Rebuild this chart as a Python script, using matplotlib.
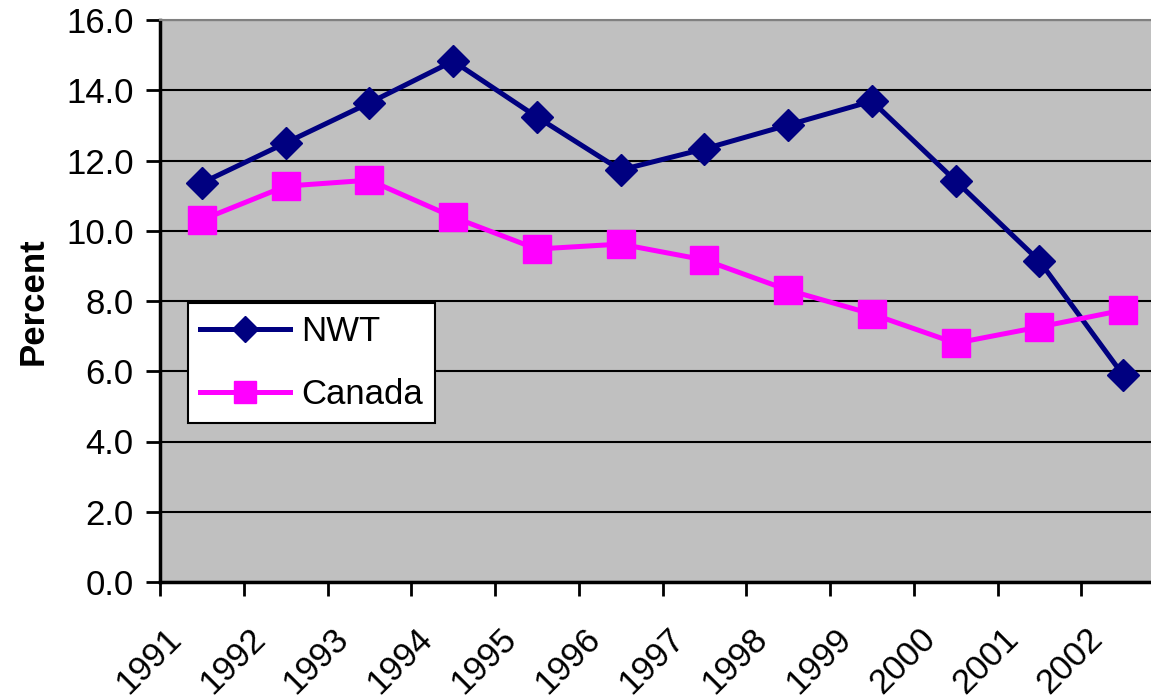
import numpy as np
import matplotlib
matplotlib.use("Agg")
import matplotlib.pyplot as plt
from matplotlib.transforms import ScaledTranslation

years = ["1991", "1992", "1993", "1994", "1995", "1996", "1997", "1998", "1999", "2000", "2001", "2002"]
nwt = [11.36, 12.50, 13.64, 14.83, 13.24, 11.73, 12.33, 13.01, 13.69, 11.42, 9.14, 5.89]
canada = [10.31, 11.27, 11.44, 10.39, 9.48, 9.62, 9.17, 8.31, 7.63, 6.80, 7.26, 7.74]
yticks = [0, 2, 4, 6, 8, 10, 12, 14, 16]

plt.rcParams['font.family'] = ['Liberation Sans', 'DejaVu Sans']

W, H = 1151, 700
fig = plt.figure(figsize=(W / 100, H / 100), dpi=100)
left, right, top, bottom = 160, 1165, 20, 582
ax = fig.add_axes([left / W, (H - bottom) / H, (right - left) / W, (bottom - top) / H])
ax.set_facecolor('#C0C0C0')

x = np.arange(len(years))
ax.plot(x, nwt, color='#000080', lw=3.6, marker='D', markersize=16, markeredgewidth=1,
        markeredgecolor='#000080', label='NWT', zorder=3, clip_on=False)
ax.plot(x, canada, color='#FF00FF', lw=3.6, marker='s', markersize=19.5, markeredgewidth=1,
        markeredgecolor='#FF00FF', label='Canada', zorder=3, clip_on=False)

ax.set_xlim(-0.5, len(years) - 0.5)
ax.set_ylim(0, 16)
ax.set_yticks(yticks)
ax.set_yticklabels([f"{v:.1f}" for v in yticks], fontsize=25)
ax.yaxis.grid(True, color='black', lw=1.5)
ax.set_axisbelow(True)

ax.set_xticks(np.arange(-0.5, len(years)), labels=[''] * (len(years) + 1))
ax.set_xticks(x, labels=years, minor=True, fontsize=25, rotation=45, ha='right')
ax.tick_params(axis='x', which='minor', length=0, pad=29)
ax.tick_params(axis='both', which='major', length=10, width=2, direction='out')
ax.tick_params(axis='y', pad=9)
off = ScaledTranslation(-14 / 100, 0, fig.dpi_scale_trans)
for lab in ax.get_xticklabels(minor=True):
    lab.set_transform(lab.get_transform() + off)

for s in ['left', 'bottom']:
    ax.spines[s].set_linewidth(2.5)
    ax.spines[s].set_color('black')
ax.spines['top'].set_color('#808080')
ax.spines['top'].set_linewidth(1.5)
ax.spines['right'].set_visible(False)

ax.set_ylabel('Percent', fontsize=25, fontweight='bold', labelpad=12)

leg = ax.legend(loc='upper left', bbox_to_anchor=(188 / W, (H - 303) / H),
                bbox_transform=fig.transFigure, fontsize=25, frameon=True,
                fancybox=False, framealpha=1, edgecolor='black',
                handlelength=2.6, borderpad=0.35, labelspacing=0.85,
                handletextpad=0.3, markerscale=0.8, borderaxespad=0)
leg.get_frame().set_linewidth(1.5)

fig.savefig('out.png', dpi=100)
